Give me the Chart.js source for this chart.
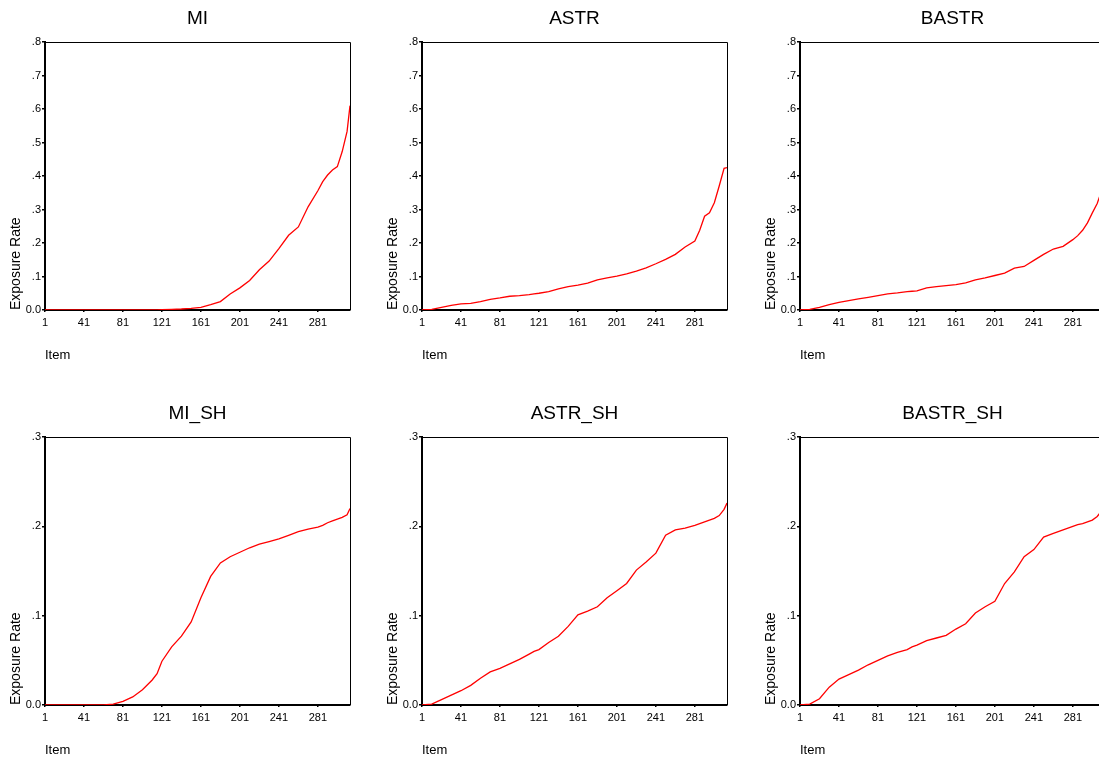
<!DOCTYPE html>
<html>
<head>
<meta charset="utf-8">
<script src="https://cdn.jsdelivr.net/npm/chart.js@4.4.1/dist/chart.umd.min.js"></script>
<style>
  html, body { margin: 0; padding: 0; background: #fff; overflow: hidden; }
  body { width: 1099px; height: 758px; position: relative; }
  canvas { position: absolute; }
</style>
</head>
<body>
<canvas id="c0"></canvas>
<canvas id="c1"></canvas>
<canvas id="c2"></canvas>
<canvas id="c3"></canvas>
<canvas id="c4"></canvas>
<canvas id="c5"></canvas>
<script>
// item positions
var items = [1, 11, 21, 31, 41, 51, 61, 71, 81, 91, 101, 111, 116, 121, 131, 141, 151, 161, 171,
  181, 191, 201, 211, 221, 231, 241, 251, 261, 271, 281, 286, 291, 296, 301, 306, 311, 314];

var xTicks = [1, 41, 81, 121, 161, 201, 241, 281];
var yTicksTop = [0, 0.1, 0.2, 0.3, 0.4, 0.5, 0.6, 0.7, 0.8];
var yTicksBottom = [0, 0.1, 0.2, 0.3];

var titles = ["MI", "ASTR", "BASTR", "MI_SH", "ASTR_SH", "BASTR_SH"];

var mi = [0, 0, 0, 0, 0, 0, 0, 0, 0, 0, 0, 0, 0, 0.001, 0.002, 0.003, 0.005, 0.008, 0.016,
  0.025, 0.048, 0.066, 0.088, 0.12, 0.146, 0.183, 0.223, 0.248, 0.308, 0.356, 0.383, 0.403, 0.418, 0.428, 0.473, 0.533, 0.61];

var astr = [0, 0.002, 0.008, 0.014, 0.018, 0.02, 0.025, 0.032, 0.036, 0.041, 0.043, 0.046, 0.048, 0.05, 0.055, 0.063, 0.07, 0.074, 0.08,
  0.09, 0.096, 0.101, 0.108, 0.116, 0.126, 0.138, 0.151, 0.166, 0.188, 0.206, 0.238, 0.28, 0.29, 0.32, 0.37, 0.423, 0.425];

var bastr = [0, 0.002, 0.008, 0.016, 0.023, 0.028, 0.033, 0.038, 0.043, 0.048, 0.051, 0.055, 0.056, 0.057, 0.066, 0.07, 0.073, 0.076, 0.081,
  0.09, 0.096, 0.103, 0.11, 0.125, 0.13, 0.148, 0.166, 0.182, 0.19, 0.21, 0.222, 0.238, 0.26, 0.29, 0.318, 0.36, 0.38];

var miSh = [0, 0, 0, 0, 0, 0, 0, 0.001, 0.004, 0.009, 0.017, 0.028, 0.035, 0.049, 0.065, 0.077, 0.093, 0.12, 0.144,
  0.159, 0.166, 0.171, 0.176, 0.18, 0.183, 0.186, 0.19, 0.194, 0.197, 0.199, 0.201, 0.204, 0.206, 0.208, 0.21, 0.213, 0.22];

var astrSh = [0, 0.001, 0.006, 0.011, 0.016, 0.022, 0.03, 0.037, 0.041, 0.046, 0.051, 0.057, 0.06, 0.062, 0.07, 0.077, 0.088, 0.101, 0.105,
  0.11, 0.12, 0.128, 0.136, 0.151, 0.16, 0.17, 0.19, 0.196, 0.198, 0.201, 0.203, 0.205, 0.207, 0.209, 0.212, 0.219, 0.226];

var bastrSh = [0, 0.001, 0.007, 0.02, 0.029, 0.034, 0.039, 0.045, 0.05, 0.055, 0.059, 0.062, 0.065, 0.067, 0.072, 0.075, 0.078, 0.085, 0.091,
  0.103, 0.11, 0.116, 0.136, 0.149, 0.166, 0.174, 0.188, 0.192, 0.196, 0.2, 0.202, 0.203, 0.205, 0.207, 0.211, 0.218, 0.222];

var series = [mi, astr, bastr, miSh, astrSh, bastrSh];

var FONT = "Arial, 'Liberation Sans', sans-serif";
var colLeft = [0, 377, 755];
var rowTop = [0, 395];

function yLabel(v) {
  if (v === 0) return "0.0";
  return v.toFixed(1).replace(/^0/, "");
}

// frame, title and axis captions
var panelText = {
  id: "panelText",
  afterDraw: function (chart) {
    var ctx = chart.ctx;
    var a = chart.chartArea;
    ctx.save();
    ctx.strokeStyle = "#000";
    ctx.lineWidth = 1;
    ctx.beginPath();
    ctx.moveTo(a.left, a.top + 0.5);
    ctx.lineTo(a.right + 0.5, a.top + 0.5);
    ctx.lineTo(a.right + 0.5, a.bottom);
    ctx.stroke();

    ctx.fillStyle = "#000";
    ctx.font = "19px " + FONT;
    ctx.textAlign = "center";
    ctx.textBaseline = "middle";
    ctx.fillText(chart.options.plugins.panelText.title, (a.left + a.right) / 2, 19);

    ctx.font = "13px " + FONT;
    ctx.textAlign = "left";
    ctx.fillText("Item", a.left, a.bottom + 45);

    ctx.translate(16, a.bottom);
    ctx.rotate(-Math.PI / 2);
    ctx.font = "14px " + FONT;
    ctx.textAlign = "left";
    ctx.fillText("Exposure Rate", 0, 0);
    ctx.restore();
  }
};

function makePanel(i) {
  var canvas = document.getElementById("c" + i);
  var row = Math.floor(i / 3);
  var col = i % 3;
  canvas.width = 352;
  canvas.height = 370;
  canvas.style.left = colLeft[col] + "px";
  canvas.style.top = rowTop[row] + "px";
  var yTicks = row === 0 ? yTicksTop : yTicksBottom;

  var pts = items.map(function (x, k) {
    return { x: x, y: series[i][k] };
  });

  new Chart(canvas, {
    type: "line",
    data: {
      datasets: [{
        data: pts,
        borderColor: "#ff0000",
        borderWidth: 1.3,
        pointRadius: 0,
        tension: 0,
        fill: false
      }]
    },
    options: {
      responsive: false,
      animation: false,
      layout: { padding: { left: 0, right: 2, top: 42, bottom: 0 } },
      plugins: {
        legend: { display: false },
        tooltip: { enabled: false },
        panelText: { title: titles[i] }
      },
      scales: {
        x: {
          type: "linear",
          min: 1,
          max: 314,
          afterBuildTicks: function (s) {
            s.ticks = xTicks.map(function (v) { return { value: v }; });
          },
          afterFit: function (s) { s.height = 60; },
          grid: { drawOnChartArea: false, drawTicks: true, tickLength: 2, color: "#000", lineWidth: 1.5 },
          border: { display: true, color: "#000", width: 2 },
          ticks: {
            autoSkip: false,
            maxRotation: 0,
            padding: 4,
            color: "#000",
            font: { family: FONT, size: 11 }
          }
        },
        y: {
          min: 0,
          max: yTicks[yTicks.length - 1],
          afterBuildTicks: function (s) {
            s.ticks = yTicks.map(function (v) { return { value: v }; });
          },
          afterFit: function (s) { s.width = 45; },
          grid: { drawOnChartArea: false, drawTicks: true, tickLength: 3, color: "#000", lineWidth: 1.5 },
          border: { display: true, color: "#000", width: 2 },
          ticks: {
            padding: 1,
            color: "#000",
            font: { family: FONT, size: 11 },
            callback: function (v) { return yLabel(v); }
          }
        }
      }
    },
    plugins: [panelText]
  });
}

for (var i = 0; i < 6; i++) makePanel(i);
</script>
</body>
</html>
